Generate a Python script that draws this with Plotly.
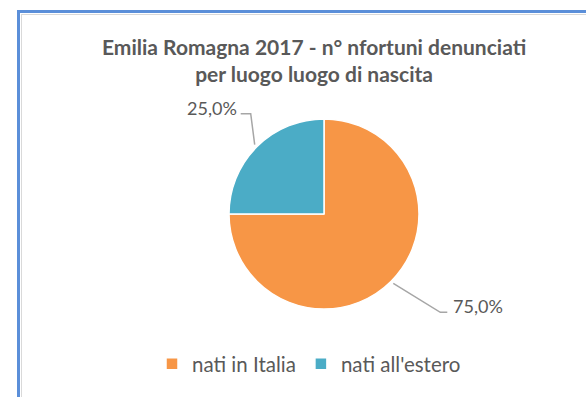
import math
import plotly.graph_objects as go

# --- data -------------------------------------------------------------
categories = ["nati in Italia", "nati all'estero"]
shares = [75.0, 25.0]
slice_colors = ["#F79646", "#4BACC6"]
title_lines = ["Emilia Romagna 2017 - n° nfortuni denunciati",
               "per luogo luogo di nascita"]

# --- layout constants (pixels) -----------------------------------------
W, H = 586, 397
CX, CY, R = 324, 214, 95          # pie centre and radius
FONT = "Lato, 'Open Sans', sans-serif"
TEXT = "#595959"
LEADER = "#A6A6A6"

# leader line elbow offsets and tail lengths per slice
elbow_off = [(47, 29), (-4, -31)]
tail_len = [7, 10]


def px(x):
    return x / W


def py(y):
    return 1 - y / H


fig = go.Figure(go.Pie(
    labels=categories,
    values=shares,
    sort=False,
    direction="clockwise",
    rotation=0,
    textinfo="none",
    hoverinfo="label+percent",
    marker=dict(colors=slice_colors, line=dict(color="white", width=1.5)),
    domain=dict(x=[px(CX - R), px(CX + R)], y=[py(CY + R), py(CY - R)]),
))

shapes = []
annotations = []

# leader lines and percentage labels, positioned from the slice angles
total = sum(shares)
start = 0.0
for i, v in enumerate(shares):
    frac = v / total
    mid = math.radians((start + frac / 2) * 360)
    start += frac
    ex = CX + (R + 3) * math.sin(mid)
    ey = CY - (R + 3) * math.cos(mid)
    bx, by = ex + elbow_off[i][0], ey + elbow_off[i][1]
    right = math.sin(mid) > 0
    tx = bx + (tail_len[i] if right else -tail_len[i])
    shapes.append(dict(
        type="path", xref="paper", yref="paper",
        path=f"M{px(ex)},{py(ey)} L{px(bx)},{py(by)} L{px(tx)},{py(by)}",
        line=dict(color=LEADER, width=1.5),
    ))
    label = f"{frac * 100:.1f}%".replace(".", ",")
    annotations.append(dict(
        x=px(tx + (4 if right else -2)), y=py(by - 6),
        xref="paper", yref="paper",
        xanchor="left" if right else "right", yanchor="middle",
        text=label, showarrow=False,
        font=dict(family=FONT, size=18, color=TEXT),
    ))

# chart title
annotations.append(dict(
    x=px(314), y=py(60), xref="paper", yref="paper",
    xanchor="center", yanchor="middle",
    text="<br>".join(title_lines), showarrow=False, align="center",
    font=dict(family=FONT, size=21, color=TEXT, weight="bold"),
))

# chart frame
shapes += [
    dict(type="line", xref="paper", yref="paper",
         x0=px(21), x1=1, y0=py(14.5), y1=py(14.5),
         line=dict(color="#D9D9D9", width=1)),
    dict(type="line", xref="paper", yref="paper",
         x0=px(21.5), x1=px(21.5), y0=py(14), y1=0,
         line=dict(color="#D9D9D9", width=1)),
    dict(type="line", xref="paper", yref="paper",
         x0=px(17), x1=1, y0=py(11.5), y1=py(11.5),
         line=dict(color="#5B8FD9", width=3)),
    dict(type="line", xref="paper", yref="paper",
         x0=px(18.5), x1=px(18.5), y0=py(10), y1=0,
         line=dict(color="#5B8FD9", width=3)),
]

fig.update_layout(
    width=W, height=H, autosize=False,
    margin=dict(l=0, r=0, t=0, b=0),
    paper_bgcolor="white", plot_bgcolor="white",
    shapes=shapes, annotations=annotations,
    showlegend=True,
    legend=dict(
        orientation="h", x=px(309), xanchor="center",
        y=py(364), yanchor="middle",
        font=dict(family=FONT, size=20.5, color=TEXT),
        itemclick=False, itemdoubleclick=False,
    ),
)

fig.write_html("out.html")
